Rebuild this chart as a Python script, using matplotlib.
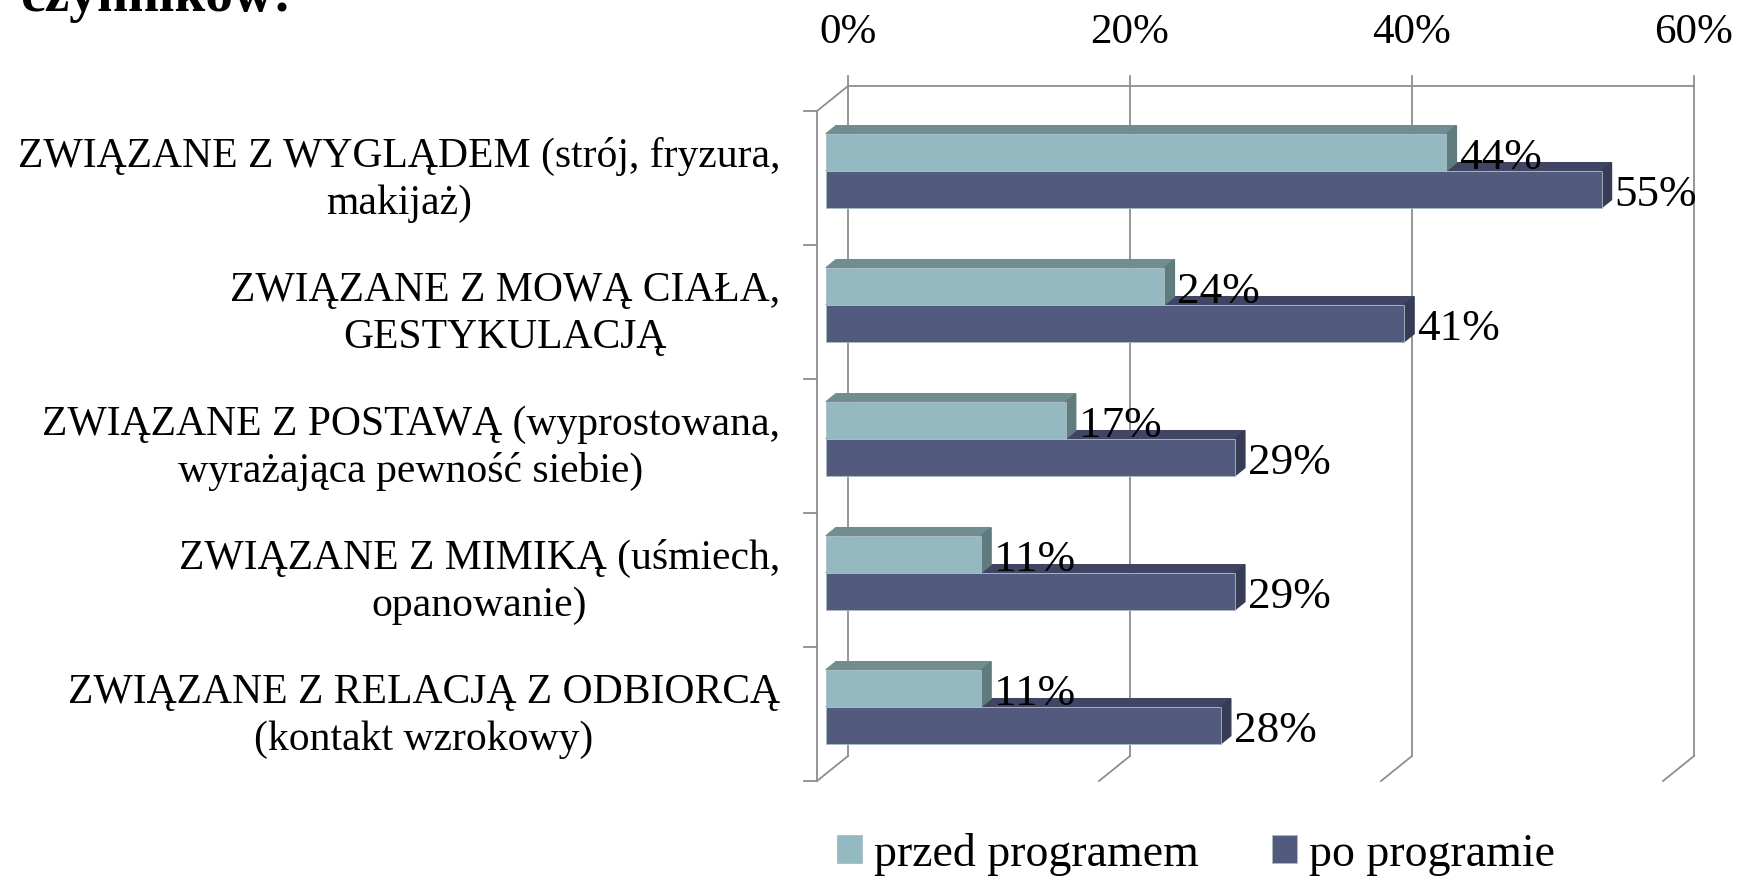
import matplotlib
matplotlib.use('Agg')
import matplotlib.pyplot as plt
from matplotlib.patches import Polygon

# data
categories = ['ZWIĄZANE Z WYGLĄDEM (strój, fryzura,\nmakijaż)',
              'ZWIĄZANE Z MOWĄ CIAŁA,\nGESTYKULACJĄ',
              'ZWIĄZANE Z POSTAWĄ (wyprostowana,\nwyrażająca pewność siebie)',
              'ZWIĄZANE Z MIMIKĄ (uśmiech,\nopanowanie)',
              'ZWIĄZANE Z RELACJĄ Z ODBIORCĄ\n(kontakt wzrokowy)']
przed = [44, 24, 17, 11, 11]
po = [55, 41, 29, 29, 28]
series_names = ['przed programem', 'po programie']
xticks = [0, 20, 40, 60]
xtick_labels = ['0%', '20%', '40%', '60%']

plt.rcParams['font.family'] = ['Liberation Serif', 'DejaVu Serif']

W, H, dpi = 1739, 877, 100
fig = plt.figure(figsize=(W/dpi, H/dpi), dpi=dpi)

# front plane of the fake 3d box (pixels)
fx0, fx1 = 817, 817 + 846
fy0, fy1 = 111, 781
ax = fig.add_axes([fx0/W, 1 - fy1/H, (fx1 - fx0)/W, (fy1 - fy0)/H])
ax.set_xlim(0, 60)
ax.set_ylim(5, 0)
ax.axis('off')

px_x = (fx1 - fx0)/60.0      # pixels per percent
px_y = (fy1 - fy0)/5.0       # pixels per category
DX, DY = 31/px_x, -25/px_y   # full depth of the box in data units

def depth(x, y, d):
    return x + d*DX, y + d*DY

grid = '#8E8E8E'
lw = 1.3
n = len(categories)

# back wall
for x in xticks:
    xb, yb = depth(x, n, 1)
    xt, yt = depth(x, -0.075, 1)
    ax.plot([xt, xb], [yt, yb], color=grid, lw=lw, clip_on=False, zorder=1)
    ax.plot([x, xb], [n, yb], color=grid, lw=lw, clip_on=False, zorder=1)
    ax.text(xb, (33 - fy0)/px_y, xtick_labels[xticks.index(x)], ha='center', va='center',
            fontsize=31, clip_on=False)
a, b = depth(0, 0, 1)
c, d = depth(60, 0, 1)
ax.plot([a, c], [b, d], color=grid, lw=lw, clip_on=False, zorder=1)
# left wall
ax.plot([0, 0], [0, n], color=grid, lw=lw, clip_on=False, zorder=1)
ax.plot([0, a], [0, b], color=grid, lw=lw, clip_on=False, zorder=1)
for i in range(n + 1):
    ax.plot([-13/px_x, 0], [i, i], color=grid, lw=lw, clip_on=False, zorder=1)

# bars
light = ('#95B9C1', '#718D91', '#5F7B7E')
dark = ('#525B7D', '#3F4563', '#363B56')
h = 74/px_y/2
d_front, d_back = 9/31.0, 19/31.0
bx, by = depth(0, 0, d_front)
ddx, ddy = (d_back - d_front)*DX, (d_back - d_front)*DY

handles = []
for k, (vals, cols) in enumerate([(po, dark), (przed, light)]):
    ys = [i + 0.5 + by + (h/2 if k == 0 else -h/2) for i in range(n)]
    bars = ax.barh(ys, vals, height=h, left=bx, color=cols[0], edgecolor='#A9BCC4',
                   linewidth=0.6, zorder=3 + 2*k, clip_on=False)
    handles.append(bars)
    for y, v in zip(ys, vals):
        yt, yb = y - h/2, y + h/2
        x_end = bx + v
        ax.add_patch(Polygon([(bx, yt), (x_end, yt), (x_end + ddx, yt + ddy), (bx + ddx, yt + ddy)],
                             closed=True, color=cols[1], zorder=2 + 2*k, clip_on=False))
        ax.add_patch(Polygon([(x_end, yt), (x_end + ddx, yt + ddy), (x_end + ddx, yb + ddy), (x_end, yb)],
                             closed=True, color=cols[2], zorder=2 + 2*k, clip_on=False))
        ax.text(x_end + ddx + 3/px_x, y + 6/px_y, '{}%'.format(v), ha='left', va='center',
                fontsize=32.5, zorder=10, clip_on=False)

# category labels
for i, lab in enumerate(categories):
    ax.text((780 - fx0)/px_x, i + 0.5 + 2/px_y, lab, ha='right', va='center',
            multialignment='center', fontsize=30, linespacing=1.28, clip_on=False)

fig.legend([handles[1], handles[0]], series_names, loc='center',
           bbox_to_anchor=(1196/W, 1 - 854/H), ncol=2, frameon=False, fontsize=33,
           handlelength=0.55, handleheight=0.55, handletextpad=0.25, columnspacing=1.6)

fig.text(20/W, 1 - 11/H, 'czynników:', fontsize=40, fontweight='bold', va='baseline')

fig.savefig('out.png', dpi=dpi)
